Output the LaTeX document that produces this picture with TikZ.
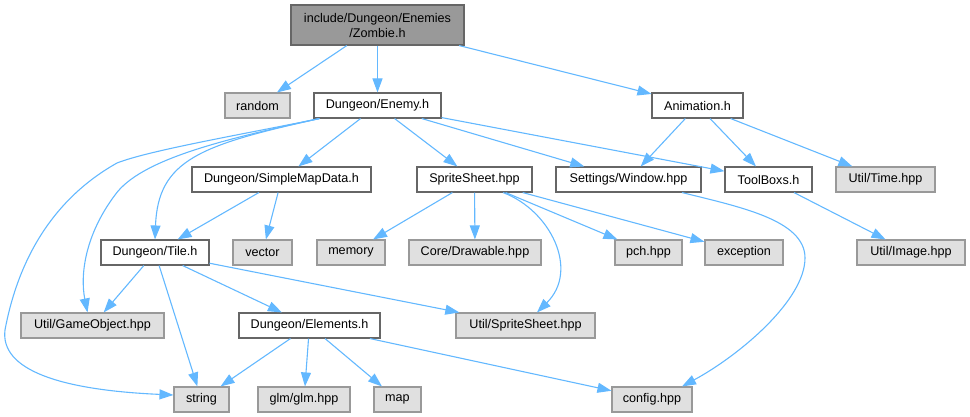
\documentclass[tikz,border=0pt]{standalone}
\usepackage{fontspec}
\setmainfont{Liberation Sans}
\usetikzlibrary{arrows.meta,calc}
\definecolor{edgec}{HTML}{63B8FF}
\definecolor{wborder}{HTML}{666666}
\definecolor{gborder}{HTML}{999999}
\definecolor{gfill}{HTML}{E0E0E0}
\definecolor{zfill}{HTML}{999999}
\begin{document}
\begin{tikzpicture}[x=1pt,y=-1pt,
  base/.style={rectangle, inner sep=0pt, minimum height=25pt, font=\fontsize{12.6}{15}\selectfont, line width=1.1pt},
  wbox/.style={base, draw=wborder, fill=white},
  gbox/.style={base, draw=gborder, fill=gfill},
  zbox/.style={base, draw=wborder, fill=zfill, minimum height=40pt, align=center},
  dep/.style={draw=edgec, line width=1.1pt, -{Triangle[length=14pt,width=10pt]}}]
\useasboundingbox (0,0) rectangle (970,417);
% nodes
\node[zbox, minimum width=173pt] (zombie) at (377.5,25) {include/Dungeon/Enemies\\/Zombie.h};
\node[gbox, minimum width=65pt] (random) at (257.5,105.5) {random};
\node[wbox, minimum width=127pt] (enemy) at (377.5,105.5) {Dungeon/Enemy.h};
\node[wbox, minimum width=91pt] (anim) at (697.5,105.5) {Animation.h};
\node[wbox, minimum width=179pt] (smd) at (281.5,179.5) {Dungeon/SimpleMapData.h};
\node[wbox, minimum width=115pt] (sprite) at (474.5,179.5) {SpriteSheet.hpp};
\node[wbox, minimum width=145pt] (window) at (628.5,179.5) {Settings/Window.hpp};
\node[wbox, minimum width=87pt] (toolbox) at (768.5,179.5) {ToolBoxs.h};
\node[gbox, minimum width=99pt] (time) at (885.5,179.5) {Util/Time.hpp};
\node[wbox, minimum width=108pt] (tile) at (155,252.5) {Dungeon/Tile.h};
\node[gbox, minimum width=59pt] (vector) at (262.5,252.5) {vector};
\node[gbox, minimum width=68pt] (memory) at (351,252.5) {memory};
\node[gbox, minimum width=132pt] (drawable) at (475,252.5) {Core/Drawable.hpp};
\node[gbox, minimum width=67pt] (pch) at (648.5,252.5) {pch.hpp};
\node[gbox, minimum width=78pt] (exception) at (744,252.5) {exception};
\node[gbox, minimum width=108pt] (image) at (911,252.5) {Util/Image.hpp};
\node[gbox, minimum width=143pt] (gameobj) at (92.5,325.5) {Util/GameObject.hpp};
\node[wbox, minimum width=141pt] (elements) at (309.5,325.5) {Dungeon/Elements.h};
\node[gbox, minimum width=139pt] (usprite) at (525.5,325.5) {Util/SpriteSheet.hpp};
\node[gbox, minimum width=55pt] (string) at (201.5,399.5) {string};
\node[gbox, minimum width=92pt] (glm) at (304,399.5) {glm/glm.hpp};
\node[gbox, minimum width=47pt] (map) at (397.5,399.5) {map};
\node[gbox, minimum width=80pt] (config) at (652,399.5) {config.hpp};
% straight edges
\draw[dep] (zombie) -- (random);
\draw[dep] (zombie) -- (enemy);
\draw[dep] (zombie) -- (anim);
\draw[dep] (enemy) -- (smd);
\draw[dep] (enemy) -- (sprite);
\draw[dep] (enemy) -- (window);
\draw[dep] (enemy) -- (toolbox);
\draw[dep] (anim) -- (window);
\draw[dep] (anim) -- (toolbox);
\draw[dep] (anim) -- (time);
\draw[dep] (smd) -- (tile);
\draw[dep] (smd) -- (vector);
\draw[dep] (sprite) -- (memory);
\draw[dep] (sprite) -- (drawable);
\draw[dep] (sprite) -- (pch);
\draw[dep] (sprite) -- (exception);
\draw[dep] (toolbox) -- (image);
\draw[dep] (tile) -- (gameobj);
\draw[dep] (tile) -- (string);
\draw[dep] (tile) -- (elements);
\draw[dep] (tile) -- (usprite);
\draw[dep] (elements) -- (string);
\draw[dep] (elements) -- (glm);
\draw[dep] (elements) -- (map);
\draw[dep] (elements) -- (config);
% curved edges
\draw[dep] ($(enemy.south west)+(6,0)$) .. controls (200,145) and (158,160) .. (tile.north);
\draw[dep] ($(enemy.south west)+(6,0)$) .. controls (220,140) and (140,160) .. (115,195)
   .. controls (85,235) and (80,275) .. ($(gameobj.north)+(-5,0)$);
\draw[dep] ($(enemy.south west)+(6,0)$) .. controls (250,133) and (150,150) .. (117,163)
   .. controls (60,195) and (20,250) .. (5,330)
   .. controls (0,370) and (60,390) .. ($(string.west)+(0,-4.5)$);
\draw[dep] ($(sprite.south)+(28.5,0)$) .. controls (550,210) and (580,270) .. ($(usprite.north)+(11.5,0)$);
\draw[dep] ($(window.south)+(53.5,0)$) .. controls (740,207) and (805,220) .. (805,258)
   .. controls (805,300) and (740,355) .. ($(config.north)+(30,0)$);
\end{tikzpicture}
\end{document}
